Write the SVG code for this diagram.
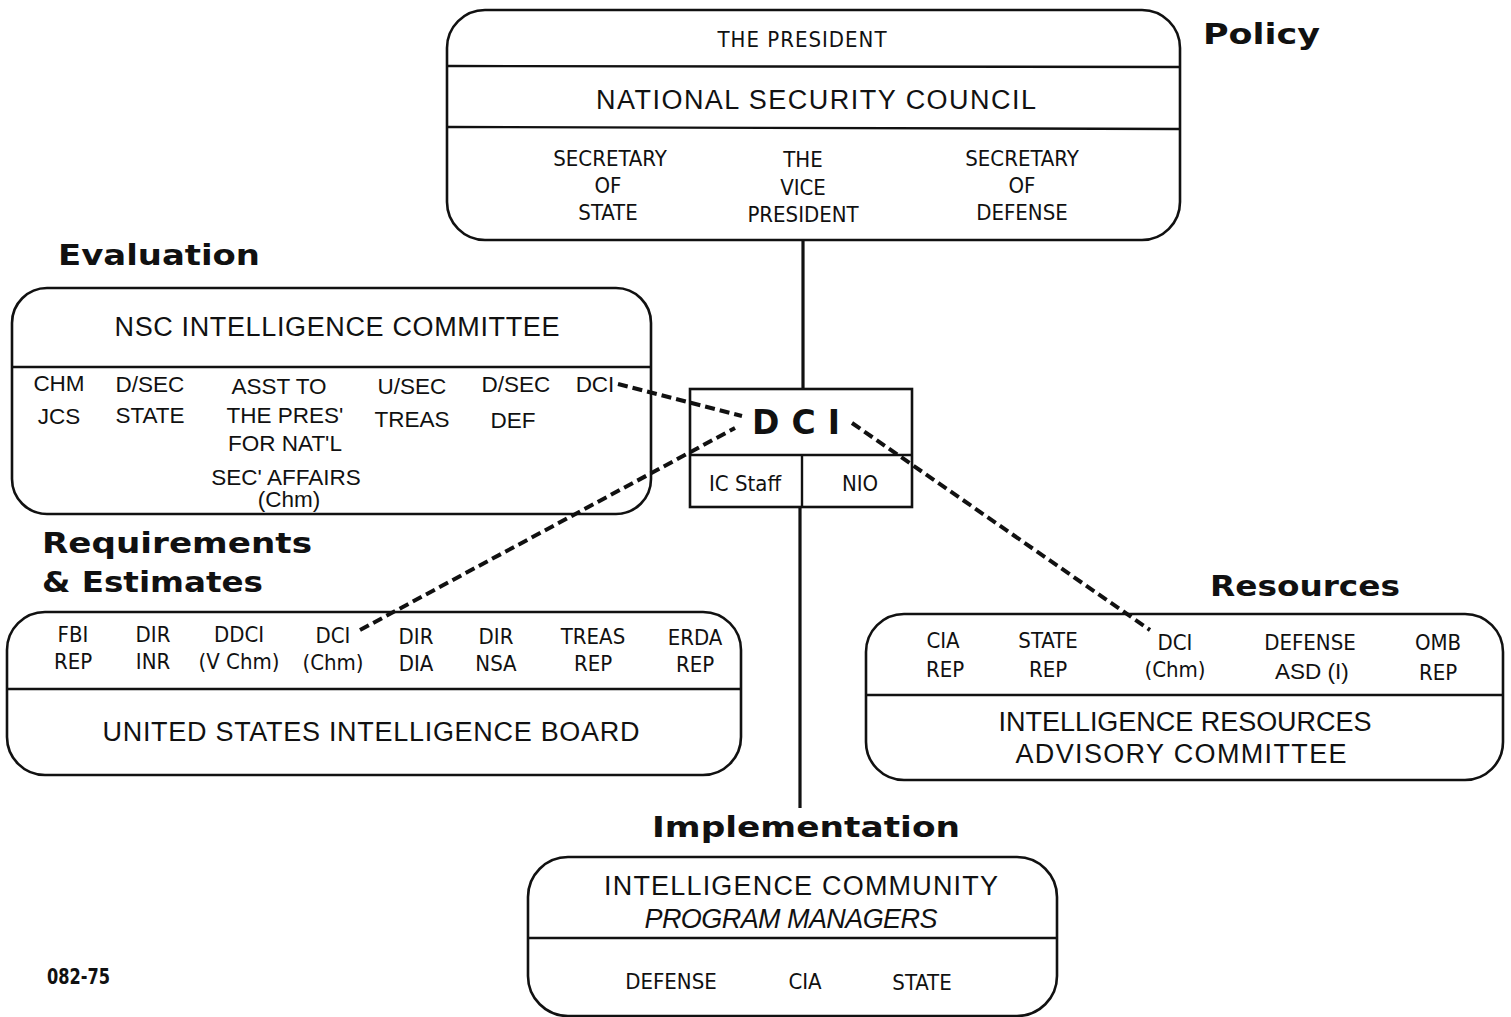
<svg xmlns="http://www.w3.org/2000/svg" width="1511" height="1017" viewBox="0 0 1511 1017">
<style>
.box{fill:none;stroke:#111;stroke-width:2.6}
.div{stroke:#111;stroke-width:2.4}
.solid{stroke:#111;stroke-width:3.2;fill:none}
.dash{stroke:#111;stroke-width:4;fill:none;stroke-dasharray:10 5}
.lbl{font-family:"DejaVu Sans","Liberation Sans",sans-serif;font-weight:bold;font-size:29px;fill:#111}
.ttl{font-family:"Liberation Sans","DejaVu Sans",sans-serif;font-size:27px;fill:#111;text-anchor:middle}
.hv{font-family:"Liberation Sans","DejaVu Sans",sans-serif;font-size:22.5px;fill:#111;text-anchor:middle}
.cd{font-family:"Liberation Sans Narrow","DejaVu Sans Condensed","Liberation Sans",sans-serif;font-size:22px;fill:#111;text-anchor:middle}
</style>
<rect width="1511" height="1017" fill="#fff"/>

<g id="connectors">
<line class="solid" x1="803" y1="240" x2="803" y2="389"/>
<line class="solid" x1="800" y1="507" x2="800" y2="808"/>
<line class="dash" x1="618" y1="384" x2="742" y2="416"/>
<line class="dash" x1="360" y1="630" x2="735" y2="428"/>
<line class="dash" x1="852" y1="423" x2="1150" y2="630"/>
</g>

<g id="label-policy"><text class="lbl" x="1203" y="44" textLength="117" lengthAdjust="spacingAndGlyphs">Policy</text></g>
<g id="label-evaluation"><text class="lbl" x="58" y="265" textLength="202" lengthAdjust="spacingAndGlyphs">Evaluation</text></g>
<g id="label-requirements"><text class="lbl" x="42" y="553" textLength="270" lengthAdjust="spacingAndGlyphs">Requirements</text>
<text class="lbl" x="42" y="592" textLength="221" lengthAdjust="spacingAndGlyphs">&amp; Estimates</text></g>
<g id="label-resources"><text class="lbl" x="1210" y="596" textLength="190" lengthAdjust="spacingAndGlyphs">Resources</text></g>
<g id="label-implementation"><text class="lbl" x="652" y="837" textLength="308" lengthAdjust="spacingAndGlyphs">Implementation</text></g>

<g id="node-nsc">
<rect class="box" x="447" y="10" width="733" height="230" rx="38"/>
<line class="div" x1="448" y1="66" x2="1179" y2="67"/>
<line class="div" x1="448" y1="127" x2="1179" y2="129"/>
<text class="cd" x="802" y="47" font-size="24" textLength="169" lengthAdjust="spacing">THE PRESIDENT</text>
<text class="ttl" x="816" y="109" font-size="28" textLength="440" lengthAdjust="spacing">NATIONAL SECURITY COUNCIL</text>
<text class="cd" x="610" y="166" font-size="24">SECRETARY</text>
<text class="cd" x="608" y="193" font-size="24">OF</text>
<text class="cd" x="608" y="220" font-size="24">STATE</text>
<text class="cd" x="803" y="167" font-size="24">THE</text>
<text class="cd" x="803" y="195" font-size="24">VICE</text>
<text class="cd" x="803" y="222" font-size="24">PRESIDENT</text>
<text class="cd" x="1022" y="166" font-size="24">SECRETARY</text>
<text class="cd" x="1022" y="193" font-size="24">OF</text>
<text class="cd" x="1022" y="220" font-size="24">DEFENSE</text>
</g>

<g id="node-nscic">
<rect class="box" x="12" y="288" width="639" height="226" rx="35"/>
<line class="div" x1="13" y1="367" x2="650" y2="367"/>
<text class="ttl" x="337" y="336" textLength="445" lengthAdjust="spacing">NSC INTELLIGENCE COMMITTEE</text>
<text class="hv" x="59" y="391">CHM</text>
<text class="hv" x="59" y="424">JCS</text>
<text class="hv" x="150" y="392">D/SEC</text>
<text class="hv" x="150" y="423">STATE</text>
<text class="hv" x="279" y="394">ASST TO</text>
<text class="hv" x="285" y="423">THE PRES'</text>
<text class="hv" x="285" y="451">FOR NAT'L</text>
<text class="hv" x="286" y="485">SEC' AFFAIRS</text>
<text class="hv" x="289" y="507" font-size="19">(Chm)</text>
<text class="hv" x="412" y="394">U/SEC</text>
<text class="hv" x="412" y="427">TREAS</text>
<text class="hv" x="516" y="392">D/SEC</text>
<text class="hv" x="513" y="428">DEF</text>
<text class="hv" x="595" y="392">DCI</text>
</g>

<g id="node-dci">
<rect class="box" x="690" y="389" width="222" height="118" fill="#fff"/>
<line class="div" x1="690" y1="455" x2="912" y2="455"/>
<line class="div" x1="802" y1="455" x2="802" y2="507"/>
<text x="802" y="434" font-family="DejaVu Sans, sans-serif" font-weight="bold" font-size="33" text-anchor="middle" letter-spacing="12" fill="#111">DCI</text>
<text class="cd" x="745" y="491" font-size="25">IC Staff</text>
<text class="cd" x="860" y="491" font-size="25">NIO</text>
</g>

<g id="node-usib">
<rect class="box" x="7" y="612" width="734" height="163" rx="38"/>
<line class="div" x1="8" y1="689" x2="740" y2="689"/>
<text class="cd" x="73" y="642">FBI</text><text class="cd" x="73" y="669">REP</text>
<text class="cd" x="153" y="642">DIR</text><text class="cd" x="153" y="669">INR</text>
<text class="cd" x="239" y="642">DDCI</text><text class="cd" x="239" y="669">(V Chm)</text>
<text class="cd" x="333" y="643">DCI</text><text class="cd" x="333" y="670">(Chm)</text>
<text class="cd" x="416" y="644">DIR</text><text class="cd" x="416" y="671">DIA</text>
<text class="cd" x="496" y="644">DIR</text><text class="cd" x="496" y="671">NSA</text>
<text class="cd" x="593" y="644">TREAS</text><text class="cd" x="593" y="671">REP</text>
<text class="cd" x="695" y="645">ERDA</text><text class="cd" x="695" y="672">REP</text>
<text class="ttl" x="371" y="741" textLength="537" lengthAdjust="spacing">UNITED STATES INTELLIGENCE BOARD</text>
</g>

<g id="node-irac">
<rect class="box" x="866" y="614" width="637" height="166" rx="38"/>
<line class="div" x1="867" y1="695" x2="1502" y2="695"/>
<text class="cd" x="943" y="648">CIA</text><text class="cd" x="945" y="677">REP</text>
<text class="cd" x="1048" y="648">STATE</text><text class="cd" x="1048" y="677">REP</text>
<text class="cd" x="1175" y="650">DCI</text><text class="cd" x="1175" y="677">(Chm)</text>
<text class="cd" x="1310" y="650" font-size="23">DEFENSE</text><text class="hv" x="1312" y="679">ASD (I)</text>
<text class="cd" x="1438" y="650">OMB</text><text class="cd" x="1438" y="680">REP</text>
<text class="ttl" x="1185" y="731" textLength="373" lengthAdjust="spacing">INTELLIGENCE RESOURCES</text>
<text class="ttl" x="1181" y="763" textLength="331" lengthAdjust="spacing">ADVISORY COMMITTEE</text>
</g>

<g id="node-icpm">
<rect class="box" x="528" y="857" width="529" height="159" rx="40"/>
<line class="div" x1="529" y1="938" x2="1056" y2="938"/>
<text class="ttl" x="801" y="895" textLength="394" lengthAdjust="spacing">INTELLIGENCE COMMUNITY</text>
<text class="ttl" x="791" y="928" font-style="italic" textLength="293" lengthAdjust="spacing">PROGRAM MANAGERS</text>
<text class="cd" x="671" y="989" font-size="23">DEFENSE</text>
<text class="cd" x="805" y="989" font-size="23">CIA</text>
<text class="cd" x="922" y="990" font-size="23">STATE</text>
</g>

<g id="code"><text x="47" y="984" font-family="Liberation Sans Narrow, DejaVu Sans Condensed, sans-serif" font-weight="bold" font-size="22" textLength="63" lengthAdjust="spacingAndGlyphs" fill="#111">082-75</text></g>
</svg>
